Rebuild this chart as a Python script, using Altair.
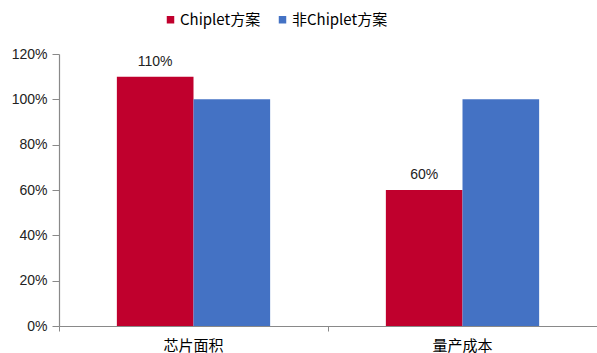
import altair as alt
import pandas as pd

categories = ["芯片面积", "量产成本"]
series = ["Chiplet方案", "非Chiplet方案"]
chiplet_values = [1.10, 0.60]
non_chiplet_values = [1.00, 1.00]
label_texts = ["110%", "60%"]
colors = ["#C0002D", "#4472C4"]

rows = []
for i, c in enumerate(categories):
    rows.append({"cat": c, "series": series[0], "value": chiplet_values[i], "label": label_texts[i]})
    rows.append({"cat": c, "series": series[1], "value": non_chiplet_values[i], "label": ""})
df = pd.DataFrame(rows)

x = alt.X("cat:N", sort=categories, title=None,
          scale=alt.Scale(paddingInner=0, paddingOuter=0),
          axis=alt.Axis(labelAngle=0, labelFont="Noto Sans CJK SC", labelFontSize=15,
                        labelColor="#000000", labelPadding=7, domainColor="#898989",
                        tickColor="#898989", tickSize=5, bandPosition=0,
                        domainWidth=1.2))
xo = alt.XOffset("series:N", sort=series, scale=alt.Scale(paddingInner=0, paddingOuter=0.755))
y = alt.Y("value:Q", title=None,
          scale=alt.Scale(domain=[0, 1.2], nice=False),
          axis=alt.Axis(format=".0%", values=[0, 0.2, 0.4, 0.6, 0.8, 1.0, 1.2], grid=False,
                        labelFont="Liberation Sans", labelFontSize=14, labelColor="#222222",
                        labelPadding=5, tickSize=7, domainColor="#898989", tickColor="#898989",
                        domainWidth=1.2))

bars = alt.Chart(df).mark_bar().encode(
    x=x, xOffset=xo, y=y,
    color=alt.Color("series:N", sort=series,
                    scale=alt.Scale(domain=series, range=colors),
                    legend=alt.Legend(title=None, orient="none", direction="horizontal",
                                      legendX=104, legendY=-42, symbolType="square",
                                      symbolSize=56, symbolStrokeWidth=0,
                                      labelFont="Noto Sans CJK SC", labelFontSize=15,
                                      labelColor="#000000", columnPadding=14,
                                      labelOffset=2)),
)

labels = alt.Chart(df).mark_text(dy=-8, fontSize=14, font="Liberation Sans",
                                 color="#222222", baseline="bottom").encode(
    x=x, xOffset=xo, y=y, text="label:N"
)

chart = (bars + labels).properties(
    width=538, height=272,
    padding={"left": 59, "top": 54, "right": 0, "bottom": 27},
    autosize=alt.AutoSizeParams(type="none"),
).configure_view(stroke=None)

chart.save("out.html", embed_options={"renderer": "svg", "actions": False})
